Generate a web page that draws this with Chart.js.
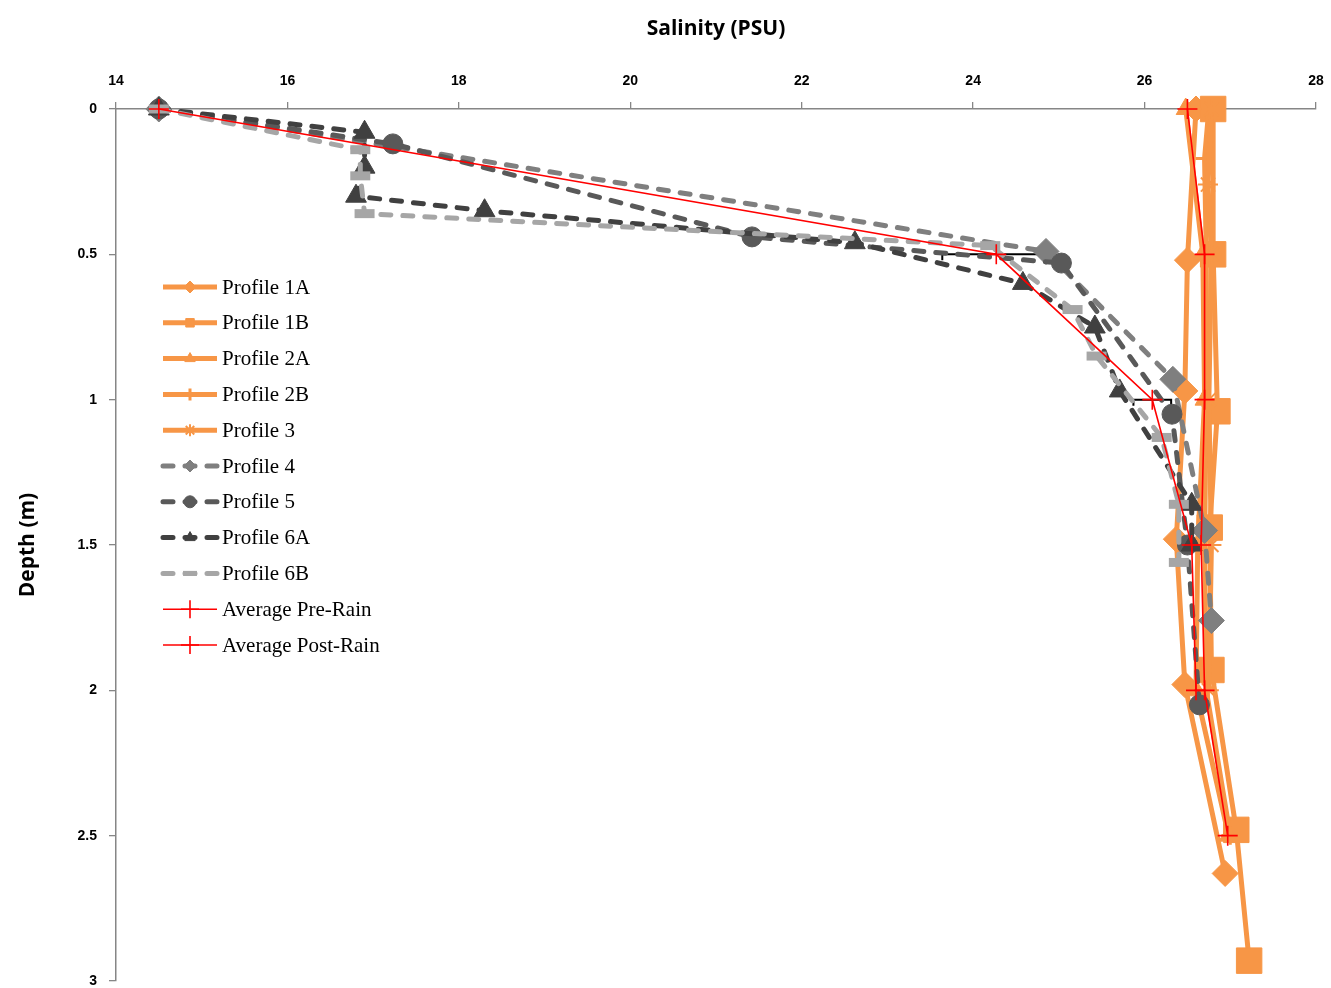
<!DOCTYPE html>
<html>
<head>
<meta charset="utf-8">
<script src="https://cdn.jsdelivr.net/npm/chart.js@4/dist/chart.umd.min.js"></script>
<style>
  html, body { margin: 0; padding: 0; background: #ffffff; }
  #wrap { width: 1331px; height: 988px; }
</style>
</head>
<body>
<div id="wrap"><canvas id="c" width="1331" height="988"></canvas></div>
<script>
// Axis ticks
const salinityTicks = [14, 16, 18, 20, 22, 24, 26, 28];
const depthTicks = [0, 0.5, 1, 1.5, 2, 2.5, 3];

// Pre-rain profiles (salinity in PSU, depth in m)
const p1aDepth = [0, 0.52, 0.97, 1.48, 1.98, 2.63];
const p1aSal   = [26.6, 26.5, 26.47, 26.37, 26.47, 26.94];
const p1bDepth = [0, 0.5, 1.04, 1.44, 1.93, 2.48, 2.93];
const p1bSal   = [26.8, 26.8, 26.85, 26.76, 26.78, 27.07, 27.22];
const p2aDepth = [0, 0.5, 1.0, 1.5, 2.0, 2.5];
const p2aSal   = [26.48, 26.68, 26.7, 26.62, 26.6, 26.98];
const p2bDepth = [0, 0.17, 0.5, 1.0, 1.5, 2.0, 2.5];
const p2bSal   = [26.75, 26.7, 26.72, 26.72, 26.7, 26.72, 27.0];
const p3Depth  = [0, 0.26, 0.5, 1.0, 1.5, 2.0];
const p3Sal    = [26.78, 26.74, 26.78, 26.75, 26.78, 26.75];

// Post-rain profiles
const p4Depth  = [0, 0.49, 0.93, 1.45, 1.76];
const p4Sal    = [14.5, 24.85, 26.33, 26.7, 26.78];
const p5Depth  = [0, 0.12, 0.44, 0.53, 1.05, 1.5, 2.05];
const p5Sal    = [14.5, 17.23, 21.42, 25.03, 26.32, 26.5, 26.64];
const p6aDepth = [0, 0.08, 0.2, 0.3, 0.35, 0.46, 0.6, 0.75, 0.97, 1.36, 1.5];
const p6aSal   = [14.5, 16.9, 16.9, 16.8, 18.3, 22.62, 24.58, 25.42, 25.71, 26.55, 26.55];
const p6bDepth = [0, 0.14, 0.23, 0.36, 0.47, 0.69, 0.85, 1.13, 1.36, 1.56];
const p6bSal   = [14.5, 16.85, 16.85, 16.9, 24.2, 25.16, 25.44, 26.2, 26.4, 26.4];

// Averages
const preRainDepth  = [0, 0.5, 1.0, 1.5, 2.0, 2.5];
const preRainSal    = [26.5, 26.7, 26.7, 26.66, 26.7, 26.97];
const postRainDepth = [0, 0.5, 1.0, 1.5, 2.0];
const postRainSal   = [14.5, 24.27, 26.09, 26.55, 26.6];
const postRainErr   = [0, 0.63, 0.22, 0, 0];

const seriesNames = ['Profile 1A', 'Profile 1B', 'Profile 2A', 'Profile 2B', 'Profile 3',
  'Profile 4', 'Profile 5', 'Profile 6A', 'Profile 6B', 'Average Pre-Rain', 'Average Post-Rain'];

function pts(sal, depth) { return sal.map((s, i) => ({ x: s, y: depth[i] })); }

const ORANGE = '#f79646';
const DASH = [10, 12];

function orange(name, sal, depth, style, radius, bw) {
  return {
    label: name, data: pts(sal, depth), showLine: true, tension: 0, clip: false,
    borderColor: ORANGE, borderWidth: 5, borderJoinStyle: 'round',
    pointStyle: style, pointRadius: radius, pointBackgroundColor: ORANGE,
    pointBorderColor: ORANGE, pointBorderWidth: bw
  };
}
function gray(name, sal, depth, color, style, radius, bw) {
  return {
    label: name, data: pts(sal, depth), showLine: true, tension: 0, clip: false,
    borderColor: color, borderWidth: 5, borderDash: DASH, borderCapStyle: 'round',
    pointStyle: style, pointRadius: radius, pointBackgroundColor: color,
    pointBorderColor: color, pointBorderWidth: bw
  };
}
function red(name, sal, depth) {
  return {
    label: name, data: pts(sal, depth), showLine: true, tension: 0, clip: false,
    borderColor: '#ff0000', borderWidth: 1.6,
    pointStyle: 'cross', pointRadius: 10, pointBackgroundColor: '#ff0000',
    pointBorderColor: '#ff0000', pointBorderWidth: 1.6
  };
}

const datasets = [
  orange(seriesNames[0], p1aSal, p1aDepth, 'rectRot', 13, 1),
  orange(seriesNames[1], p1bSal, p1bDepth, 'rect', 18, 1),
  orange(seriesNames[2], p2aSal, p2aDepth, 'triangle', 11, 1),
  orange(seriesNames[3], p2bSal, p2bDepth, 'cross', 9, 3),
  orange(seriesNames[4], p3Sal, p3Depth, 'star', 10, 2),
  gray(seriesNames[5], p4Sal, p4Depth, '#7f7f7f', 'rectRot', 13, 1),
  gray(seriesNames[6], p5Sal, p5Depth, '#595959', 'circle', 10, 1),
  gray(seriesNames[7], p6aSal, p6aDepth, '#404040', 'triangle', 12, 1),
  gray(seriesNames[8], p6bSal, p6bDepth, '#a6a6a6', 'line', 10, 9),
  red(seriesNames[9], preRainSal, preRainDepth),
  red(seriesNames[10], postRainSal, postRainDepth)
];
// later series are painted over earlier ones
datasets.forEach((d, i) => { d.order = datasets.length - i; });

// Horizontal error bars on the post-rain average
const errorBars = {
  id: 'errorBars',
  beforeDatasetsDraw(chart) {
    const { ctx, scales: { x, y } } = chart;
    ctx.save();
    ctx.strokeStyle = '#000000';
    ctx.lineWidth = 2;
    postRainSal.forEach((s, i) => {
      const e = postRainErr[i];
      if (!e) return;
      const py = y.getPixelForValue(postRainDepth[i]);
      const x0 = x.getPixelForValue(s - e);
      const x1 = x.getPixelForValue(s + e);
      ctx.beginPath();
      ctx.moveTo(x0, py); ctx.lineTo(x1, py);
      ctx.moveTo(x0, py - 1); ctx.lineTo(x0, py + 6);
      ctx.moveTo(x1, py - 1); ctx.lineTo(x1, py + 6);
      ctx.stroke();
    });
    ctx.restore();
  }
};

// Legend drawn inside the plot area
const insideLegend = {
  id: 'insideLegend',
  afterDraw(chart) {
    const ctx = chart.ctx;
    const x0 = 163, x1 = 217, textX = 222, top = 287, step = 35.8;
    ctx.save();
    chart.data.datasets.forEach((d, i) => {
      const yy = top + i * step;
      ctx.save();
      ctx.strokeStyle = d.borderColor;
      ctx.lineWidth = d.borderWidth;
      ctx.lineCap = d.borderCapStyle || 'butt';
      ctx.setLineDash(d.borderDash || []);
      ctx.beginPath();
      ctx.moveTo(x0, yy); ctx.lineTo(x1, yy);
      ctx.stroke();
      ctx.restore();

      const isRed = d.borderColor === '#ff0000';
      const isLine = d.pointStyle === 'line';
      const r = isRed ? 9 : (isLine ? 7 : Math.min(6, d.pointRadius));
      const bw = isRed ? 1.6 : (isLine ? 5 : d.pointBorderWidth);
      ctx.save();
      ctx.fillStyle = d.pointBackgroundColor;
      ctx.strokeStyle = d.pointBorderColor;
      ctx.lineWidth = bw;
      Chart.helpers.drawPoint(ctx, { pointStyle: d.pointStyle, radius: r, rotation: 0, borderWidth: bw },
        (x0 + x1) / 2, yy);
      ctx.restore();

      ctx.fillStyle = '#000000';
      ctx.font = '21px "Liberation Serif", serif';
      ctx.textBaseline = 'middle';
      ctx.textAlign = 'left';
      ctx.fillText(d.label, textX, yy + 1);
    });
    ctx.restore();
  }
};

const tickFont = { family: '"Liberation Sans", Arial, sans-serif', weight: 'bold', size: 14 };
const titleFont = { family: '"Open Sans", sans-serif', weight: 'bold', size: 21 };

new Chart(document.getElementById('c'), {
  type: 'scatter',
  data: { datasets },
  options: {
    responsive: false,
    animation: false,
    layout: { autoPadding: false, padding: { left: 0, right: 15, top: 0, bottom: 7 } },
    plugins: { legend: { display: false }, tooltip: { enabled: false } },
    scales: {
      x: {
        type: 'linear', position: 'top', min: 14, max: 28,
        afterBuildTicks(s) { s.ticks = salinityTicks.map(v => ({ value: v })); },
        afterFit(s) { s.height = 109; s.paddingLeft = 0; s.paddingRight = 0; },
        grid: { display: true, drawOnChartArea: false, drawTicks: true, tickLength: 7, color: '#868686', lineWidth: 1.3 },
        border: { display: true, color: '#868686', width: 1.5 },
        ticks: { font: tickFont, color: '#000000', padding: 12, maxRotation: 0, callback: v => String(v) },
        title: { display: true, text: 'Salinity (PSU)', font: titleFont, color: '#000000', padding: { top: 16, bottom: 0 } }
      },
      y: {
        type: 'linear', position: 'left', reverse: true, min: 0, max: 3,
        afterBuildTicks(s) { s.ticks = depthTicks.map(v => ({ value: v })); },
        afterFit(s) { s.width = 116; s.paddingTop = 0; s.paddingBottom = 0; },
        grid: { display: true, drawOnChartArea: false, drawTicks: true, tickLength: 7, color: '#868686', lineWidth: 1.3 },
        border: { display: true, color: '#868686', width: 1.5 },
        ticks: { font: tickFont, color: '#000000', padding: 12, callback: v => String(v) },
        title: { display: true, text: 'Depth (m)', font: titleFont, color: '#000000', padding: { top: 15, bottom: 0 } }
      }
    }
  },
  plugins: [errorBars, insideLegend]
});
</script>
</body>
</html>
